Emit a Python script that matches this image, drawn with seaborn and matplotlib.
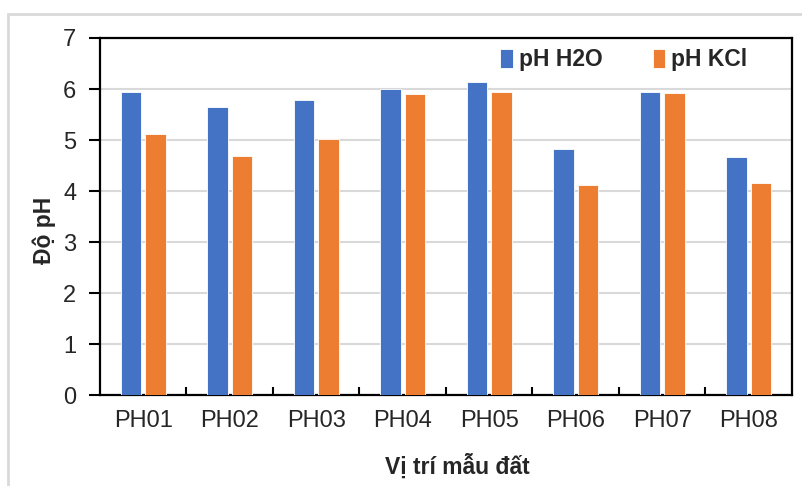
"""Soil pH (H2O and KCl) by sampling location."""

import matplotlib.pyplot as plt
import pandas as pd
import seaborn as sns
from matplotlib.patches import Rectangle
from matplotlib.ticker import FixedLocator

# values
sites = ["PH01", "PH02", "PH03", "PH04", "PH05", "PH06", "PH07", "PH08"]
ph_h2o = [5.94, 5.65, 5.79, 6.00, 6.13, 4.83, 5.94, 4.67]
ph_kcl = [5.11, 4.69, 5.01, 5.90, 5.94, 4.12, 5.92, 4.16]
series = ["pH H2O", "pH KCl"]

df = pd.DataFrame(
    {
        "site": sites * 2,
        "ph": ph_h2o + ph_kcl,
        "series": [series[0]] * len(sites) + [series[1]] * len(sites),
    }
)

sns.set_theme(style="white")
plt.rcParams["font.family"] = ["Liberation Sans", "DejaVu Sans"]

fig = plt.figure(figsize=(8.03, 4.86), dpi=100)
ax = fig.add_axes([100 / 803, 1 - 395 / 486, 692 / 803, 357 / 486])

sns.barplot(
    data=df,
    x="site",
    y="ph",
    hue="series",
    order=sites,
    hue_order=series,
    palette=["#4472C4", "#ED7D31"],
    saturation=1,
    width=0.56,
    gap=0.15,
    edgecolor="white",
    linewidth=0.6,
    errorbar=None,
    ax=ax,
    zorder=3,
)

ax.set_ylim(0, 7)
ax.set_xlim(-0.5, len(sites) - 0.5)
ax.set_yticks(range(0, 8))
ax.yaxis.grid(True, color="#d9d9d9", linewidth=1.5, zorder=0)
ax.set_axisbelow(True)

for spine in ax.spines.values():
    spine.set_visible(True)
    spine.set_color("black")
    spine.set_linewidth(1.6)

ax.tick_params(axis="y", direction="out", length=8, width=1.5, color="black",
               labelsize=17, pad=9, left=True)
ax.tick_params(axis="x", which="major", length=0, labelsize=17, pad=11)
ax.xaxis.set_minor_locator(FixedLocator([i + 0.5 for i in range(len(sites) - 1)]))
ax.tick_params(axis="x", which="minor", direction="in", length=6, width=1.5,
               color="black", bottom=True)

ax.set_xlabel("Vị trí mẫu đất", fontsize=16.5, fontweight="bold", va="center")
ax.set_ylabel("Độ pH", fontsize=16.5, fontweight="bold", va="center")
ax.xaxis.set_label_coords(0.516, -0.199)
ax.yaxis.set_label_coords(-0.08, 0.462)

ax.legend(
    loc="center right",
    bbox_to_anchor=(0.965, 0.94),
    ncol=2,
    frameon=False,
    handlelength=0.55,
    handleheight=0.9,
    handletextpad=0.25,
    columnspacing=2.2,
    prop={"weight": "bold", "size": 16.5},
)

# light outer chart border
fig.add_artist(Rectangle((8 / 803, -0.05), 1.0, 1 - 14 / 486 + 0.05,
                         transform=fig.transFigure, fill=False,
                         edgecolor="#d9d9d9", linewidth=2))

fig.savefig("out.png", dpi=100)
